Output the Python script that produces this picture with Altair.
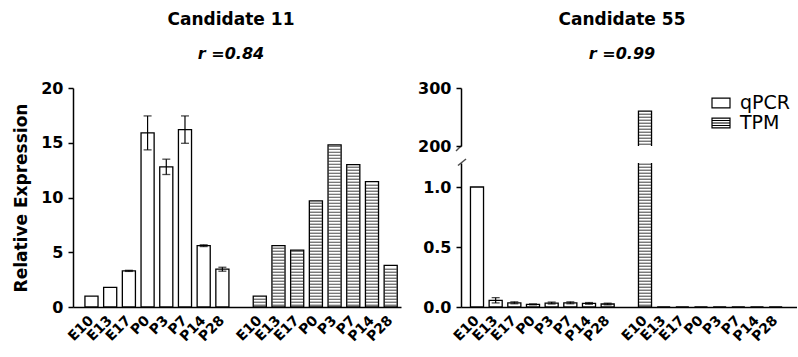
import altair as alt
import pandas as pd
import numpy as np

# ---------------- data ----------------
stages = ["E10", "E13", "E17", "P0", "P3", "P7", "P14", "P28"]
methods = ["qPCR", "TPM"]

c11_qpcr = [1.0, 1.8, 3.3, 15.9, 12.8, 16.2, 5.6, 3.45]
c11_qpcr_err = [0.0, 0.0, 0.05, 1.55, 0.7, 1.25, 0.08, 0.18]
c11_tpm = [1.0, 5.6, 5.2, 9.7, 14.8, 13.0, 11.45, 3.8]

c55_qpcr = [1.0, 0.056, 0.035, 0.022, 0.033, 0.035, 0.03, 0.025]
c55_qpcr_err = [0.0, 0.022, 0.008, 0.004, 0.008, 0.008, 0.007, 0.007]
c55_tpm = [260.0, 0.0, 0.0, 0.0, 0.0, 0.0, 0.0, 0.0]

titles = ["Candidate 11", "Candidate 55"]
r_texts = ["r =0.84", "r =0.99"]
y_title = "Relative Expression"

FONT = "DejaVu Sans"
domain = [f"qPCR_{s}" for s in stages] + ["gap"] + [f"TPM_{s}" for s in stages]
label_expr = "indexof(datum.label, '_') > 0 ? split(datum.label, '_')[1] : ''"


def make_bars(qpcr, err, tpm):
    rows = []
    for s, v, e in zip(stages, qpcr, err):
        rows.append({"key": f"qPCR_{s}", "method": "qPCR", "value": v,
                     "lo": v - e, "hi": v + e, "err": e})
    for s, v in zip(stages, tpm):
        rows.append({"key": f"TPM_{s}", "method": "TPM", "value": v,
                     "lo": v, "hi": v, "err": 0.0})
    return pd.DataFrame(rows)


def make_hatch(tpm, y0, y1, step):
    rows = []
    for s, v in zip(stages, tpm):
        top = min(v, y1)
        for y in np.arange(y0 + step * 0.6, top - step * 0.3, step):
            rows.append({"key": f"TPM_{s}", "y": float(y)})
    if not rows:
        rows.append({"key": "gap", "y": y0 - 1})
    return pd.DataFrame(rows)


def x_enc(show_axis, po, align):
    axis = alt.Axis(title=None, labelExpr=label_expr, labelAngle=-45,
                    labelAlign="right", labelBaseline="middle", ticks=False,
                    labelPadding=11, domainWidth=1.5, labelFont=FONT,
                    labelFontSize=14, labelFontWeight="bold") if show_axis else None
    return alt.X("key:N", sort=domain,
                 scale=alt.Scale(domain=domain, paddingInner=0.3,
                                 paddingOuter=po, align=align),
                 axis=axis)


def y_axis(values, fmt, title):
    kw = dict(values=values, tickSize=5, tickWidth=1.5, domainWidth=1.5,
              labelFontSize=16, labelFontWeight="bold", labelPadding=5,
              grid=False, format=fmt)
    if title:
        kw.update(title=title, titleFontSize=17, titleFontWeight="bold",
                  titlePadding=10)
    else:
        kw.update(title=None)
    return alt.Axis(**kw)


def panel(bars, hatch, ydomain, yvalues, fmt, ytitle, width, height,
          show_x, po, align, tick_size, extra=None):
    x = x_enc(show_x, po, align)
    ys = alt.Scale(domain=ydomain, nice=False, zero=False)
    ya = y_axis(yvalues, fmt, ytitle)
    base = alt.Chart(bars)
    b = base.mark_bar(fill="white", stroke="black", strokeWidth=1.3,
                      clip=True).encode(
        x=x, y=alt.Y("value:Q", scale=ys, axis=ya))
    h = alt.Chart(hatch).mark_tick(orient="horizontal", size=tick_size,
                                   thickness=1.1, color="black",
                                   clip=True).encode(
        x=x, y=alt.Y("y:Q", scale=ys, axis=ya))
    eb = base.transform_filter("datum.err > 0")
    rule = eb.mark_rule(color="black", strokeWidth=1.2, clip=True).encode(
        x=x, y=alt.Y("lo:Q", scale=ys, axis=ya), y2="hi:Q")
    cap_hi = eb.mark_tick(orient="horizontal", size=8, thickness=1.3,
                          color="black", clip=True).encode(
        x=x, y=alt.Y("hi:Q", scale=ys, axis=ya))
    cap_lo = eb.mark_tick(orient="horizontal", size=8, thickness=1.3,
                          color="black", clip=True).encode(
        x=x, y=alt.Y("lo:Q", scale=ys, axis=ya))
    layers = [b, h, rule, cap_hi, cap_lo]
    if extra:
        layers += extra
    return alt.layer(*layers).properties(width=width, height=height)


def title_params(t, sub, dx):
    return alt.TitleParams(text=t, subtitle=sub, font=FONT, fontSize=17,
                           fontWeight="bold", subtitleFont=FONT,
                           subtitleFontSize=16, subtitleFontWeight="bold",
                           subtitleFontStyle="italic", color="black",
                           subtitleColor="black", subtitlePadding=17,
                           offset=17, anchor="middle", frame="group", dx=dx)


# ---------------- left panel: Candidate 11 ----------------
bars11 = make_bars(c11_qpcr, c11_qpcr_err, c11_tpm)
hatch11 = make_hatch(c11_tpm, 0, 20, 20 / 219 * 3)
left = panel(bars11, hatch11, [0, 20], [0, 5, 10, 15, 20], "d", y_title,
             328, 219, True, 0.42, 0.76, 12).properties(
    title=title_params(titles[0], r_texts[0], -6))

# ---------------- right panel: Candidate 55 (broken axis) ----------------
bars55 = make_bars(c55_qpcr, c55_qpcr_err, c55_tpm)
PO_R, AL_R = 0.65, 0.39

legend_df = pd.DataFrame({"method": methods})
path_q = "M-1,-0.55H1V0.55H-1Z"
path_t = "M-1,-0.55H1V0.55H-1Z M-1,-0.28H1 M-1,0H1 M-1,0.28H1"
legend_layer = alt.Chart(legend_df).mark_point(
    filled=False, color="black", size=324, strokeWidth=1.2).encode(
    x=alt.value(0), y=alt.value(0), opacity=alt.value(0),
    shape=alt.Shape("method:N",
                    scale=alt.Scale(domain=methods, range=[path_q, path_t]),
                    legend=alt.Legend(title=None, orient="none", legendX=250,
                                      legendY=5, symbolSize=324,
                                      symbolOpacity=1, symbolStrokeWidth=1.2,
                                      symbolStrokeColor="black",
                                      symbolFillColor="white",
                                      labelFont=FONT, labelFontSize=19,
                                      labelColor="black", labelOffset=9,
                                      rowPadding=0, padding=0)))

hook_top = alt.Chart(legend_df.head(1)).mark_point(
    shape="M0,0 L-1,1", size=100, filled=False, color="black",
    strokeWidth=1.5).encode(x=alt.value(0), y=alt.datum(200))
hook_bot = alt.Chart(legend_df.head(1)).mark_point(
    shape="M-0.6,0.5 L1,-0.8", size=100, filled=False, color="black",
    strokeWidth=1.5).encode(x=alt.value(0), y=alt.datum(1.2))

hatch55_top = make_hatch(c55_tpm, 200, 300, 100 / 58 * 3)
hatch55_bot = make_hatch(c55_tpm, 0, 1.2, 1.2 / 144 * 3)

right_top = panel(bars55, hatch55_top, [200, 300], [200, 300], "d", None,
                  336, 58, False, PO_R, AL_R, 12,
                  extra=[hook_top, legend_layer]).properties(
    title=title_params(titles[1], r_texts[1], -7))
right_bot = panel(bars55, hatch55_bot, [0, 1.2], [0, 0.5, 1.0], ".1f", None,
                  336, 144, True, PO_R, AL_R, 12, extra=[hook_bot])

right = alt.vconcat(right_top, right_bot, spacing=2).resolve_legend(
    shape="independent").resolve_scale(shape="independent")

chart = alt.hconcat(left, right, spacing=16).resolve_legend(
    shape="independent").resolve_scale(shape="independent").properties(
    padding={"left": 12, "top": 11, "right": 0, "bottom": 0},
    background="white"
).configure_view(stroke=None).configure_axis(
    labelFont=FONT, titleFont=FONT, labelColor="black", titleColor="black",
    domainColor="black", tickColor="black")

chart.save("out.html", embed_options={"renderer": "svg", "actions": False})
